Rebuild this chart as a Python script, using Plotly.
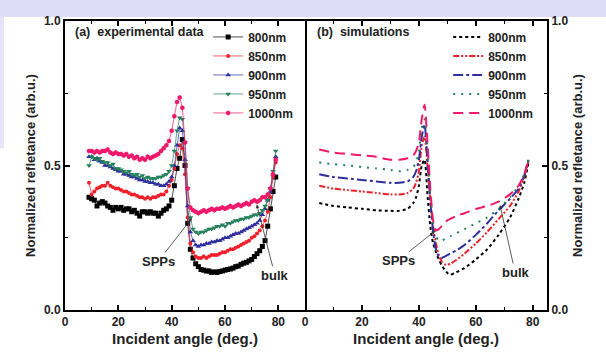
import plotly.graph_objects as go

# ---------------- data ----------------
labels = ["800nm", "850nm", "900nm", "950nm", "1000nm"]

exp_angles = list(range(9, 80))  # 9 ... 79 deg

exp_800 = [0.39, 0.385, 0.38, 0.36, 0.37, 0.375, 0.37, 0.36, 0.355, 0.345,
           0.355, 0.35, 0.355, 0.345, 0.35, 0.35, 0.34, 0.345, 0.335, 0.325,
           0.34, 0.34, 0.335, 0.34, 0.335, 0.335, 0.325, 0.335, 0.345, 0.35,
           0.36, 0.38, 0.43, 0.49, 0.525, 0.59, 0.50, 0.30, 0.21, 0.18,
           0.16, 0.15, 0.14, 0.138, 0.135, 0.135, 0.13, 0.132, 0.13, 0.133,
           0.135, 0.138, 0.14, 0.142, 0.145, 0.15, 0.152, 0.158, 0.162, 0.165,
           0.17, 0.175, 0.185, 0.195, 0.205, 0.22, 0.24, 0.29, 0.35, 0.41,
           0.46]
exp_850 = [0.44, 0.40, 0.41, 0.42, 0.425, 0.43, 0.43, 0.44, 0.43, 0.425,
           0.42, 0.42, 0.415, 0.41, 0.41, 0.405, 0.40, 0.40, 0.395, 0.39,
           0.39, 0.385, 0.39, 0.385, 0.39, 0.39, 0.395, 0.40, 0.40, 0.41,
           0.43, 0.45, 0.49, 0.54, 0.57, 0.56, 0.47, 0.32, 0.23, 0.20,
           0.185, 0.18, 0.18, 0.185, 0.18, 0.185, 0.19, 0.19, 0.19, 0.195,
           0.20, 0.20, 0.205, 0.21, 0.21, 0.215, 0.22, 0.225, 0.23, 0.235,
           0.24, 0.25, 0.255, 0.265, 0.275, 0.29, 0.31, 0.34, 0.39, 0.46,
           0.51]
exp_900 = [0.53, 0.53, 0.52, 0.525, 0.515, 0.51, 0.50, 0.50, 0.495, 0.49,
           0.485, 0.48, 0.48, 0.47, 0.47, 0.465, 0.46, 0.46, 0.455, 0.45,
           0.45, 0.445, 0.445, 0.44, 0.44, 0.435, 0.435, 0.43, 0.43, 0.435,
           0.445, 0.46, 0.50, 0.57, 0.63, 0.62, 0.52, 0.36, 0.27, 0.24,
           0.225, 0.22, 0.225, 0.225, 0.23, 0.23, 0.235, 0.235, 0.24, 0.24,
           0.245, 0.25, 0.25, 0.255, 0.26, 0.265, 0.265, 0.27, 0.275, 0.28,
           0.285, 0.29, 0.295, 0.30, 0.31, 0.33, 0.35, 0.38, 0.41, 0.47,
           0.53]
exp_950 = [0.50, 0.53, 0.525, 0.52, 0.525, 0.515, 0.51, 0.51, 0.50, 0.505,
           0.49, 0.49, 0.485, 0.48, 0.475, 0.48, 0.47, 0.465, 0.47, 0.46,
           0.465, 0.455, 0.46, 0.455, 0.455, 0.455, 0.46, 0.46, 0.465, 0.47,
           0.48, 0.50, 0.55, 0.62, 0.665, 0.66, 0.58, 0.42, 0.32, 0.28,
           0.27, 0.265, 0.27, 0.27, 0.275, 0.28, 0.28, 0.285, 0.29, 0.29,
           0.295, 0.29, 0.30, 0.30, 0.305, 0.31, 0.31, 0.315, 0.315, 0.32,
           0.32, 0.325, 0.33, 0.33, 0.335, 0.345, 0.36, 0.38, 0.42, 0.48,
           0.55]
exp_1000 = [0.55, 0.55, 0.545, 0.55, 0.545, 0.55, 0.55, 0.555, 0.545, 0.54,
            0.545, 0.54, 0.54, 0.535, 0.54, 0.53, 0.535, 0.525, 0.53, 0.52,
            0.525, 0.52, 0.53, 0.525, 0.53, 0.535, 0.54, 0.55, 0.56, 0.57,
            0.585, 0.62, 0.67, 0.72, 0.735, 0.70, 0.58, 0.42, 0.355, 0.345,
            0.34, 0.335, 0.34, 0.345, 0.34, 0.345, 0.35, 0.345, 0.35, 0.35,
            0.355, 0.35, 0.355, 0.36, 0.355, 0.36, 0.365, 0.36, 0.365, 0.37,
            0.365, 0.375, 0.38, 0.375, 0.38, 0.39, 0.39, 0.40, 0.42, 0.47,
            0.52]

sim_angles = [5, 10, 15, 20, 25, 30, 33, 36, 38, 39, 40, 41, 42, 43, 44, 45,
              46, 47, 48, 49, 50, 51, 53, 56, 60, 64, 68, 72, 75, 77, 78.5]

sim_800 = [0.37, 0.36, 0.355, 0.35, 0.345, 0.343, 0.343, 0.35, 0.37, 0.39,
           0.43, 0.50, 0.52, 0.40, 0.29, 0.23, 0.20, 0.175, 0.155, 0.14,
           0.128, 0.122, 0.13, 0.145, 0.175, 0.21, 0.26, 0.32, 0.385, 0.44,
           0.51]
sim_850 = [0.43, 0.42, 0.415, 0.41, 0.405, 0.40, 0.40, 0.405, 0.42, 0.44,
           0.48, 0.57, 0.60, 0.50, 0.38, 0.29, 0.23, 0.19, 0.168, 0.158,
           0.157, 0.16, 0.172, 0.195, 0.23, 0.27, 0.315, 0.36, 0.41, 0.46,
           0.515]
sim_900 = [0.47, 0.46, 0.455, 0.45, 0.445, 0.44, 0.44, 0.445, 0.46, 0.48,
           0.52, 0.60, 0.64, 0.52, 0.38, 0.27, 0.21, 0.185, 0.18, 0.185,
           0.19, 0.195, 0.205, 0.225, 0.26, 0.30, 0.345, 0.385, 0.42, 0.465,
           0.52]
sim_950 = [0.51, 0.505, 0.50, 0.495, 0.49, 0.485, 0.48, 0.485, 0.495, 0.51,
           0.55, 0.63, 0.66, 0.55, 0.40, 0.30, 0.255, 0.24, 0.24, 0.245,
           0.25, 0.255, 0.265, 0.28, 0.30, 0.32, 0.35, 0.39, 0.43, 0.47,
           0.52]
sim_1000 = [0.555, 0.545, 0.54, 0.535, 0.53, 0.52, 0.52, 0.525, 0.535, 0.55,
            0.58, 0.66, 0.71, 0.58, 0.42, 0.31, 0.275, 0.28, 0.29, 0.30,
            0.31, 0.315, 0.325, 0.335, 0.35, 0.36, 0.375, 0.40, 0.43, 0.47,
            0.52]

exp_series = [exp_800, exp_850, exp_900, exp_950, exp_1000]
sim_series = [sim_800, sim_850, sim_900, sim_950, sim_1000]

x_ticks = [0, 20, 40, 60, 80]
x_minor = [10, 30, 50, 70]
y_ticks = [0, 0.5, 1.0]
y_ticktext = ["0.0", "0.5", "1.0"]
y_minor = [0.25, 0.75]

# ---------------- styles ----------------
colors = ["#000000", "#f0202a", "#2e2e9c", "#24805a", "#f0186a"]
symbols = ["square", "circle", "triangle-up", "triangle-down", "hexagon"]
msizes = [5, 4, 5, 5, 5]
dashes = ["3px,3px", "6px,2px,2px,2px,2px,2px", "10px,3px,3px,3px",
          "2px,6px", "10px,6px"]

FONT = "Liberation Sans, Arial, sans-serif"

fig = go.Figure()

for lab, vals, c, s, ms in zip(labels, exp_series, colors, symbols, msizes):
    fig.add_trace(go.Scatter(
        x=exp_angles, y=vals, mode="lines+markers", name=lab,
        line=dict(color=c, width=0.7),
        marker=dict(symbol=s, size=ms, color=c, line=dict(width=0)),
        xaxis="x", yaxis="y", legend="legend"))

for lab, vals, c, d in zip(labels, sim_series, colors, dashes):
    fig.add_trace(go.Scatter(
        x=sim_angles, y=vals, mode="lines", name=lab,
        line=dict(color=c, width=2, dash=d, shape="spline", smoothing=0.6),
        xaxis="x2", yaxis="y2", legend="legend2"))

axis_common = dict(
    showgrid=False, zeroline=False, showline=True, linecolor="black",
    linewidth=2, ticks="inside", ticklen=5, tickwidth=1.5, tickcolor="black",
    tickfont=dict(size=12, family=FONT, color="#222", weight="bold"),
)

xtitle = dict(text="Incident angle (deg.)",
              font=dict(size=15, family=FONT, color="#222", weight="bold"),
              standoff=5)
ytitle = dict(text="Normalized refletance (arb.u.)",
              font=dict(size=13, family=FONT, color="#222", weight="bold"),
              standoff=5)

minor_x = dict(tickvals=x_minor, ticks="inside", ticklen=3, tickwidth=1.2,
               tickcolor="black")
minor_y = dict(tickvals=y_minor, ticks="inside", ticklen=3, tickwidth=1.2,
               tickcolor="black")

leg_font = dict(size=12, family=FONT, color="#222", weight="bold")

fig.update_layout(
    width=606, height=357,
    margin=dict(l=65, r=59, t=21, b=44),
    paper_bgcolor="white", plot_bgcolor="white",
    font=dict(family=FONT, size=12, color="#222", weight="bold"),
    xaxis=dict(domain=[0, 0.498], range=[0, 90], tickvals=x_ticks,
               minor=minor_x, mirror="ticks", anchor="y", title=xtitle,
               **axis_common),
    yaxis=dict(domain=[0, 1], range=[0, 1], tickvals=y_ticks,
               ticktext=y_ticktext, minor=minor_y, mirror=True, anchor="x",
               title=ytitle, **axis_common),
    xaxis2=dict(domain=[0.498, 1], range=[0, 85], tickvals=x_ticks,
                minor=minor_x, mirror="ticks", anchor="y2", title=xtitle,
                **axis_common),
    yaxis2=dict(domain=[0, 1], range=[0, 1], tickvals=y_ticks,
                ticktext=y_ticktext, minor=minor_y, mirror=False, anchor="x2",
                side="right", title=ytitle, **axis_common),
    legend=dict(x=0.297, y=0.995, xanchor="left", yanchor="top",
                bgcolor="rgba(0,0,0,0)", tracegroupgap=0, font=leg_font),
    legend2=dict(x=0.795, y=0.995, xanchor="left", yanchor="top",
                 bgcolor="rgba(0,0,0,0)", tracegroupgap=0, font=leg_font),
    showlegend=True,
)

# lavender frame pieces of the original figure page
fig.add_shape(type="rect", xref="paper", yref="paper", x0=-0.2, x1=1.2,
              y0=1.0137, y1=1.2, fillcolor="#dedcf6", line=dict(width=0),
              layer="below")
fig.add_shape(type="rect", xref="paper", yref="paper", x0=-0.2, x1=-0.1266,
              y0=0.56, y1=1.0137, fillcolor="#e6e4f8", line=dict(width=0),
              layer="below")

ann_font = dict(size=12.5, family=FONT, color="#222", weight="bold")
fig.add_annotation(xref="paper", yref="paper", x=0.0166, y=0.962,
                   text="(a)  experimental data", showarrow=False,
                   xanchor="left", yanchor="middle", font=ann_font)
fig.add_annotation(xref="paper", yref="paper", x=0.519, y=0.962,
                   text="(b)  simulations", showarrow=False,
                   xanchor="left", yanchor="middle", font=ann_font)

lbl_font = dict(size=13, family=FONT, color="#222", weight="bold")
arrow = dict(showarrow=True, arrowhead=2, arrowsize=0.9, arrowwidth=0.8,
             arrowcolor="#333", font=lbl_font)
fig.add_annotation(xref="x", yref="y", axref="x", ayref="y",
                   x=47.6, y=0.318, ax=34.9, ay=0.168, text="SPPs", **arrow)
fig.add_annotation(xref="x", yref="y", axref="x", ayref="y",
                   x=71.9, y=0.365, ax=78.7, ay=0.12, text="bulk", **arrow)
fig.add_annotation(xref="x2", yref="y2", axref="x2", ayref="y2",
                   x=45.7, y=0.274, ax=32.7, ay=0.171, text="SPPs", **arrow)
fig.add_annotation(xref="x2", yref="y2", axref="x2", ayref="y2",
                   x=68.5, y=0.363, ax=73.8, ay=0.13, text="bulk", **arrow)

fig.write_html("out.html")
